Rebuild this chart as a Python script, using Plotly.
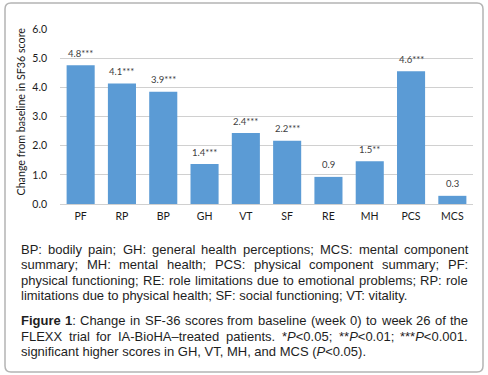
import plotly.graph_objects as go
import re

# ---------------- data ----------------
categories = ["PF", "RP", "BP", "GH", "VT", "SF", "RE", "MH", "PCS", "MCS"]
values = [4.76, 4.13, 3.85, 1.37, 2.43, 2.17, 0.93, 1.47, 4.55, 0.28]
value_labels = ["4.8***", "4.1***", "3.9***", "1.4***", "2.4***", "2.2***",
                "0.9", "1.5**", "4.6***", "0.3"]
y_ticks = [0, 1, 2, 3, 4, 5, 6]
y_tick_labels = ["0.0", "1.0", "2.0", "3.0", "4.0", "5.0", "6.0"]
y_title = "Change from baseline in SF36 score"

para1 = [
    "BP: bodily pain; GH: general health perceptions; MCS: mental component",
    "summary; MH: mental health; PCS: physical component summary; PF:",
    "physical functioning; RE: role limitations due to emotional problems; RP: role",
    "limitations due to physical health; SF: social functioning; VT: vitality.",
]
para2 = [
    "<b>Figure</b> <b>1</b>: Change in SF-36 scores from baseline (week 0) to week 26 of the",
    "FLEXX trial for IA-BioHA–treated patients. *<i>P</i>&lt;0.05; **<i>P</i>&lt;0.01; ***<i>P</i>&lt;0.001.",
    "significant higher scores in GH, VT, MH, and MCS (<i>P</i>&lt;0.05).",
]

# ---------------- layout geometry ----------------
W, H = 488, 375
ML, MR, MT, MB = 60, 15, 29, 171
PW, PH = W - ML - MR, H - MT - MB


def px(x):
    return (x - ML) / PW


def py(y):
    return (H - MB - y) / PH


chart_font = "Lato, Carlito, sans-serif"

fig = go.Figure()
fig.add_trace(go.Bar(
    x=categories, y=values,
    marker=dict(color="#5b9bd5", line=dict(width=0)),
    cliponaxis=False, hoverinfo="skip",
))

# value labels above bars
for c, v, t in zip(categories, values, value_labels):
    fig.add_annotation(x=c, y=v, text=t, xref="x", yref="y", showarrow=False,
                       xanchor="center", yanchor="middle", yshift=12,
                       font=dict(family=chart_font, size=9.5, color="#404040"))

# y axis title as annotation
fig.add_annotation(text=y_title, x=px(20), y=py(111.5), xref="paper", yref="paper",
                   textangle=-90, showarrow=False, xanchor="center", yanchor="middle",
                   font=dict(family=chart_font, size=10.7, color="#1a1a1a"))

# ---------------- caption text (justified via word placement) ----------------
AW = {' ': 278, 'a': 556, 'b': 556, 'c': 500, 'd': 556, 'e': 556, 'f': 278, 'g': 556,
      'h': 556, 'i': 222, 'j': 222, 'k': 500, 'l': 222, 'm': 833, 'n': 556, 'o': 556,
      'p': 556, 'q': 556, 'r': 333, 's': 500, 't': 278, 'u': 556, 'v': 500, 'w': 722,
      'x': 500, 'y': 500, 'z': 500, 'A': 667, 'B': 667, 'C': 722, 'D': 722, 'E': 667,
      'F': 611, 'G': 778, 'H': 722, 'I': 278, 'J': 500, 'K': 667, 'L': 556, 'M': 833,
      'N': 722, 'O': 778, 'P': 667, 'Q': 778, 'R': 722, 'S': 667, 'T': 611, 'U': 722,
      'V': 667, 'W': 944, 'X': 667, 'Y': 667, 'Z': 611, ':': 278, ';': 278, '.': 278,
      ',': 278, '-': 333, '(': 333, ')': 333, '*': 389, '<': 584, '–': 556}
BW = {'F': 611, 'i': 278, 'g': 611, 'u': 611, 'r': 389, 'e': 556, '1': 556}
for d in "0123456789":
    AW[d] = 556

FS = 13
X0, X1 = 21, 468


def word_width(word):
    bold = "<b>" in word
    plain = re.sub(r"<[^>]+>", "", word).replace("&lt;", "<")
    tab = BW if bold else AW
    return sum(tab.get(c, AW.get(c, 556)) for c in plain) * FS / 1000


cap_font = dict(family="Liberation Sans, Arial, sans-serif", size=FS, color="#1e1e1e")


def add_line(text, ycen, justify):
    if not justify:
        fig.add_annotation(text=text, x=px(X0), y=py(ycen), xref="paper", yref="paper",
                           xanchor="left", yanchor="middle", showarrow=False,
                           font=cap_font, borderpad=0, borderwidth=0)
        return
    words = text.split(" ")
    widths = [word_width(w) for w in words]
    gap = (X1 - X0 - sum(widths)) / (len(words) - 1)
    x = X0
    for w, ww in zip(words, widths):
        fig.add_annotation(text=w, x=px(x), y=py(ycen), xref="paper", yref="paper",
                           xanchor="left", yanchor="middle", showarrow=False,
                           font=cap_font, borderpad=0, borderwidth=0)
        x += ww + gap


line_y1 = [249, 264.5, 280, 295.5]
for i, t in enumerate(para1):
    add_line(t, line_y1[i], i < len(para1) - 1)
line_y2 = [320.5, 336, 351.5]
for i, t in enumerate(para2):
    add_line(t, line_y2[i], i < len(para2) - 1)

# ---------------- rounded border ----------------
bx0, bx1, by0, by1, r = 5, 483, 3, 372, 6
path = (f"M {px(bx0 + r)},{py(by0)} L {px(bx1 - r)},{py(by0)} "
        f"Q {px(bx1)},{py(by0)} {px(bx1)},{py(by0 + r)} "
        f"L {px(bx1)},{py(by1 - r)} Q {px(bx1)},{py(by1)} {px(bx1 - r)},{py(by1)} "
        f"L {px(bx0 + r)},{py(by1)} Q {px(bx0)},{py(by1)} {px(bx0)},{py(by1 - r)} "
        f"L {px(bx0)},{py(by0 + r)} Q {px(bx0)},{py(by0)} {px(bx0 + r)},{py(by0)} Z")
fig.add_shape(type="path", path=path, xref="paper", yref="paper",
              line=dict(color="#b4b4b4", width=1.5), layer="below")

fig.update_layout(
    width=W, height=H, margin=dict(l=ML, r=MR, t=MT, b=MB, autoexpand=False),
    paper_bgcolor="white", plot_bgcolor="white", bargap=0.32, showlegend=False,
    font=dict(family=chart_font, color="#1a1a1a"),
)
fig.update_xaxes(showgrid=False, showline=True, linecolor="#d0d0d0", linewidth=1,
                 ticks="", tickfont=dict(size=10.5, color="#1a1a1a"),
                 ticklabelstandoff=2, automargin=False, fixedrange=True)
fig.update_yaxes(range=[0, 6], tickvals=y_ticks, ticktext=y_tick_labels,
                 showgrid=True, gridcolor="#d0d0d0", gridwidth=1, zeroline=False,
                 showline=False, ticks="", tickfont=dict(size=10.5, color="#1a1a1a"),
                 ticklabelstandoff=12, automargin=False, fixedrange=True)

fig.write_html("out.html", config={"displayModeBar": False},
               post_script="document.body.style.margin='0';document.body.style.overflow='hidden';")
